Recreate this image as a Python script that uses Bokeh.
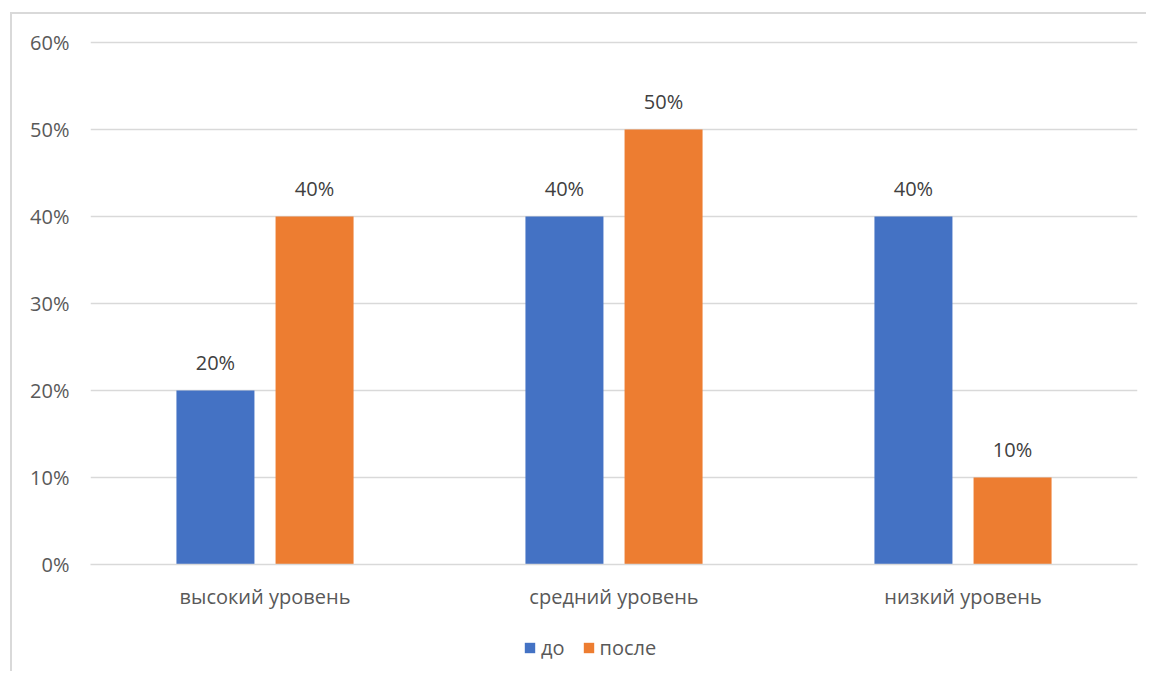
from bokeh.plotting import figure
from bokeh.layouts import column
from bokeh.models import (FactorRange, Range1d, ColumnDataSource, LabelSet, Legend, LegendItem,
                          NumeralTickFormatter, FixedTicker)
from bokeh.transform import dodge
from bokeh.core.properties import value
from bokeh.embed import file_html
from bokeh.resources import INLINE

categories = ["высокий уровень", "средний уровень", "низкий уровень"]
series_names = ["до", "после"]
before = [0.20, 0.40, 0.40]
after = [0.40, 0.50, 0.10]
y_ticks = [0, 0.1, 0.2, 0.3, 0.4, 0.5, 0.6]

FONT = "Open Sans"
BLUE = "#4472C4"
ORANGE = "#ED7D31"
GRID = "#D9D9D9"

src = ColumnDataSource(dict(
    cat=categories,
    before=before,
    after=after,
    before_lbl=[f"{round(v*100)}%" for v in before],
    after_lbl=[f"{round(v*100)}%" for v in after],
))

p = figure(x_range=FactorRange(*categories, range_padding=0), y_range=Range1d(0, 0.6023),
           frame_width=1047, frame_height=524,
           min_border_left=90, min_border_right=9, min_border_top=40, min_border_bottom=51,
           output_backend="svg", toolbar_location=None, tools="")
p.outline_line_color = None
p.background_fill_color = "white"
p.border_fill_color = None

off = 0.142
w = 0.2235
r1 = p.vbar(x=dodge("cat", -off, range=p.x_range), top="before", width=w, source=src,
            fill_color=BLUE, line_color=None)
r2 = p.vbar(x=dodge("cat", off, range=p.x_range), top="after", width=w, source=src,
            fill_color=ORANGE, line_color=None)

for col, lbl, o in (("before", "before_lbl", -off), ("after", "after_lbl", off)):
    p.add_layout(LabelSet(x=dodge("cat", o, range=p.x_range), y=col, text=lbl, source=src,
                          text_align="center", text_baseline="bottom", y_offset=15,
                          text_font=value(FONT), text_font_size="20px", text_color="#404040"))

p.yaxis.ticker = FixedTicker(ticks=y_ticks)
p.yaxis.formatter = NumeralTickFormatter(format="0%")
p.yaxis.axis_line_color = None
p.yaxis.major_tick_line_color = None
p.yaxis.minor_tick_line_color = None
p.yaxis.major_label_text_font = FONT
p.yaxis.major_label_text_font_size = "20px"
p.yaxis.major_label_text_color = "#595959"
p.yaxis.major_label_standoff = 15

p.xaxis.axis_line_color = GRID
p.xaxis.axis_line_width = 1.5
p.xaxis.major_tick_line_color = None
p.xaxis.minor_tick_line_color = None
p.xaxis.major_label_text_font = FONT
p.xaxis.major_label_text_font_size = "20px"
p.xaxis.major_label_text_color = "#595959"
p.xaxis.major_label_standoff = 12

p.xgrid.grid_line_color = None
p.ygrid.grid_line_color = GRID
p.ygrid.grid_line_width = 1.5
p.ygrid.ticker = FixedTicker(ticks=y_ticks)

# legend strip below the chart (key renderers sit outside its visible range)
lg = figure(frame_width=1146, frame_height=56, x_range=Range1d(0, 1), y_range=Range1d(0, 1),
            min_border=0, output_backend="svg", toolbar_location=None, tools="")
lg.axis.visible = False
lg.grid.visible = False
lg.outline_line_color = None
lg.background_fill_color = None
lg.border_fill_color = None
k1 = lg.vbar(x=[-10], top=[-10], width=0.1, fill_color=BLUE, line_color=None)
k2 = lg.vbar(x=[-10], top=[-10], width=0.1, fill_color=ORANGE, line_color=None)
legend = Legend(items=[LegendItem(label=series_names[0], renderers=[k1]),
                       LegendItem(label=series_names[1], renderers=[k2])],
                orientation="horizontal", location=(523, 10),
                label_text_font=FONT, label_text_font_size="20px", label_text_color="#595959",
                glyph_width=13, glyph_height=13, label_standoff=5, spacing=17,
                border_line_color=None, background_fill_alpha=0, margin=0, padding=0)
lg.add_layout(legend, "center")

layout = column(p, lg, spacing=0, styles={
    "background": "linear-gradient(#D9D9D9,#D9D9D9) 10px 12px / 2px 100% no-repeat, "
                  "linear-gradient(#D9D9D9,#D9D9D9) 10px 12px / 100% 2px no-repeat, white"
})

open("out.html", "w").write(file_html(layout, INLINE))
